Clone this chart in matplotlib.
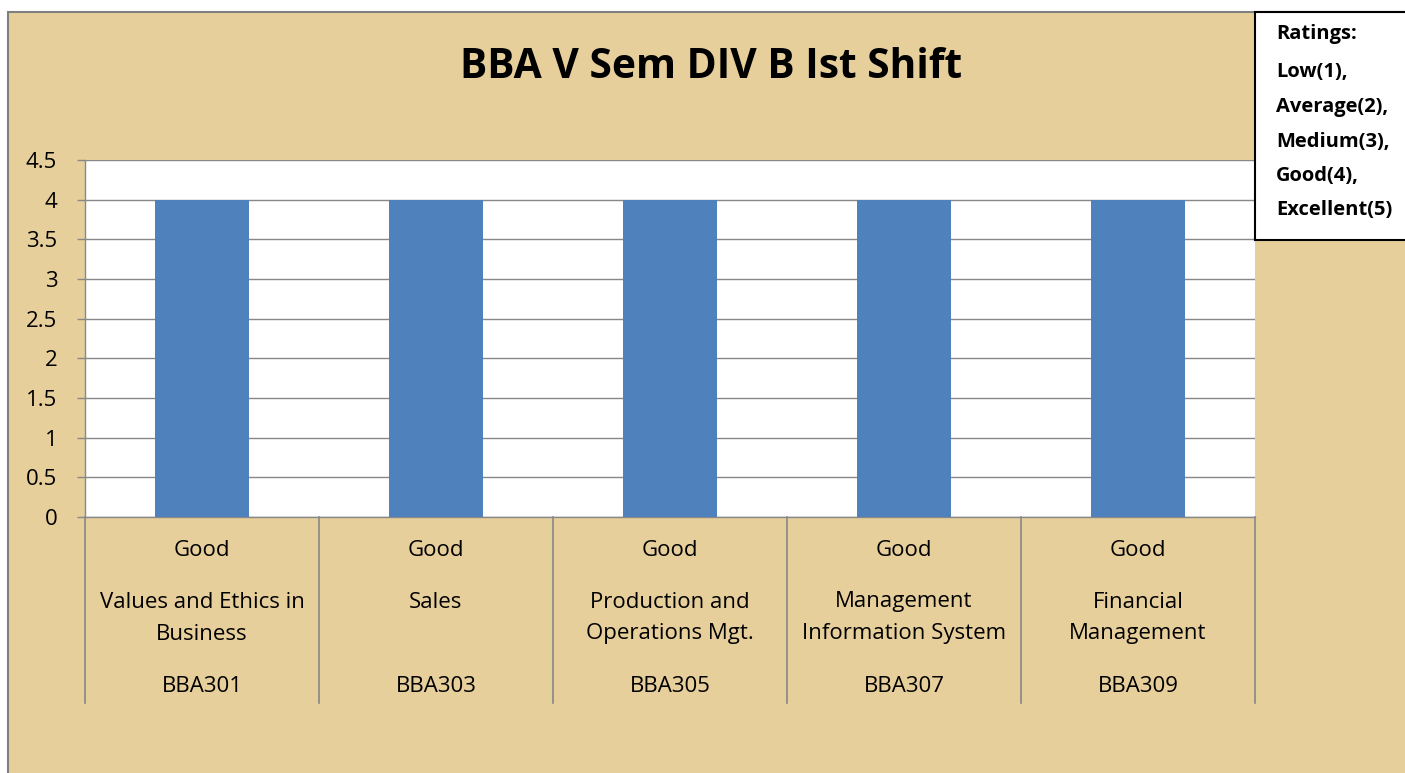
import matplotlib
matplotlib.use("Agg")
import matplotlib.pyplot as plt
from matplotlib.patches import Rectangle

codes = ["BBA301", "BBA303", "BBA305", "BBA307", "BBA309"]
subjects = ["Values and Ethics in\nBusiness", "Sales", "Production and\nOperations Mgt.",
            "Management\nInformation System", "Financial\nManagement"]
ratings = ["Good", "Good", "Good", "Good", "Good"]
values = [4, 4, 4, 4, 4]
yticks = [0, 0.5, 1, 1.5, 2, 2.5, 3, 3.5, 4, 4.5]
ytick_labels = ["0", "0.5", "1", "1.5", "2", "2.5", "3", "3.5", "4", "4.5"]
title = "BBA V Sem DIV B Ist Shift"
legend_lines = ["Ratings:", "Low(1),", "Average(2),", "Medium(3),", "Good(4),", "Excellent(5)"]

W, H = 1405, 773
FS = 16
plt.rcParams['font.family'] = ['Open Sans', 'DejaVu Sans']
fig = plt.figure(figsize=(W / 100, H / 100), dpi=100, facecolor="white")

# chart area background
fig.patches.append(Rectangle((8 / W, -0.01), 1.02, 1 - 12 / H + 0.01, transform=fig.transFigure,
                             facecolor="#E7CF9C", edgecolor="#7F7F7F", linewidth=1.5, zorder=-10))

left, right, top, bottom = 85, 1255, 160, 517
ax = fig.add_axes([left / W, 1 - bottom / H, (right - left) / W, (bottom - top) / H])
ax.set_facecolor("white")
x = list(range(len(codes)))
ax.bar(x, values, width=0.4, color="#4F81BD", zorder=3)
ax.set_xlim(-0.5, len(codes) - 0.5)
ax.set_ylim(0, 4.5)
ax.set_yticks(yticks)
ax.set_yticklabels(ytick_labels, fontsize=FS)
ax.yaxis.grid(True, color="#888888", linewidth=1)
ax.set_axisbelow(True)
ax.tick_params(axis="y", length=6, color="#888888", width=1, pad=14)
ax.tick_params(axis="x", bottom=False, labelbottom=False)
for s in ["top", "right"]:
    ax.spines[s].set_visible(False)
for s in ["left", "bottom"]:
    ax.spines[s].set_color("#888888")
    ax.spines[s].set_linewidth(1)

ah = bottom - top
def yfrac(py):
    return (bottom - py) / ah

tr = ax.get_xaxis_transform()
for b in [i - 0.5 for i in range(len(codes) + 1)]:
    ax.plot([b, b], [0, yfrac(703)], transform=tr, color="#888888", linewidth=1.2, clip_on=False)
for i in x:
    ax.text(i, yfrac(551), ratings[i], transform=tr, ha="center", va="center", fontsize=FS)
    for k, line in enumerate(subjects[i].split("\n")):
        ax.text(i, yfrac(602 + 32 * k), line, transform=tr, ha="center", va="center", fontsize=FS)
    ax.text(i, yfrac(687), codes[i], transform=tr, ha="center", va="center", fontsize=FS)

fig.text(711 / W, 1 - 67 / H, title, ha="center", va="center", fontsize=29.3, fontweight="bold")

# ratings box
fig.patches.append(Rectangle((1255 / W, 1 - 240 / H), 0.2, (240 - 12) / H, transform=fig.transFigure,
                             facecolor="white", edgecolor="black", linewidth=1.5, zorder=5))
ys = [34, 72, 107, 142, 176, 210]
for t, py in zip(legend_lines, ys):
    fig.text(1276 / W, 1 - py / H, t, ha="left", va="center", fontsize=14.5, fontweight="bold", zorder=6)

fig.savefig("out.png", dpi=100, facecolor="white")
